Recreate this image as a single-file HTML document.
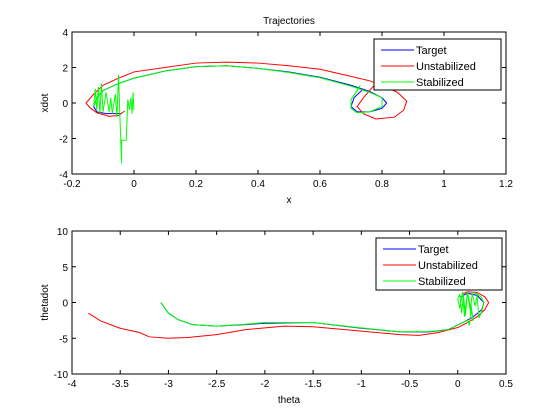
<!DOCTYPE html>
<html><head><meta charset="utf-8"><style>
body{margin:0;background:#fff;}
svg{display:block;font-family:"Liberation Sans",sans-serif;font-size:10px;}
</style></head><body>
<svg id="c" width="560" height="420"></svg>
<script>
// top plot data (x vs xdot)
const topTargetX=[-0.04,-0.09,-0.12,-0.13,-0.12,-0.1,-0.05,0,0.05,0.1,0.2,0.3,0.4,0.5,0.6,0.7,0.76,0.8,0.815,0.8,0.76,0.72,0.7,0.71,0.74];
const topTargetY=[-0.6,-0.6,-0.5,-0.2,0.3,0.7,1.1,1.4,1.6,1.8,2.05,2.1,1.95,1.75,1.45,1.0,0.65,0.3,0,-0.3,-0.5,-0.5,-0.2,0.3,0.8];
const topUnstX=[-0.03,-0.05,-0.08,-0.12,-0.14,-0.155,-0.13,-0.1,-0.05,0,0.1,0.2,0.3,0.4,0.5,0.6,0.7,0.76,0.8,0.85,0.88,0.87,0.84,0.78,0.74,0.72,0.74,0.77,0.79];
const topUnstY=[-0.45,-0.7,-0.75,-0.55,-0.3,0,0.5,1.0,1.4,1.75,2.0,2.25,2.3,2.25,2.1,1.9,1.5,1.25,1.0,0.6,0.1,-0.4,-0.8,-0.9,-0.6,-0.2,0.3,0.9,1.2];
const topStabX=[0,-0.003,-0.006,-0.01,-0.015,-0.02,-0.025,-0.04,-0.04,-0.045,-0.05,-0.055,-0.06,-0.07,-0.075,-0.08,-0.09,-0.1,-0.105,-0.11,-0.115,-0.12,-0.125,-0.13,-0.12,-0.1,-0.05,0,0.05,0.1,0.2,0.3,0.4,0.5,0.6,0.7,0.76,0.8,0.8,0.76,0.72,0.7,0.7,0.72,0.73];
const topStabY=[-0.4,0.6,-0.6,0.3,-0.4,0.2,-2.1,-2.1,-3.4,-1.0,1.6,-0.8,0.5,-0.6,0.3,-0.5,0.6,-0.5,1.1,-0.6,0.9,-0.4,0.8,-0.2,0.3,0.7,1.1,1.4,1.6,1.8,2.05,2.1,1.95,1.72,1.42,0.95,0.6,0.3,-0.2,-0.5,-0.55,-0.3,0.2,0.7,1.0];
const topXTicks=[-0.2,0,0.2,0.4,0.6,0.8,1,1.2];
const topYTicks=[-4,-2,0,2,4];
// bottom plot data (theta vs thetadot)
const botTargetX=[-3.08,-3.0,-2.9,-2.75,-2.5,-2.2,-2.0,-1.5,-1.0,-0.6,-0.3,-0.1,0.05,0.15,0.25,0.27,0.2,0.1,0.03];
const botTargetY=[0,-1.5,-2.4,-3.1,-3.3,-3.1,-2.9,-2.8,-3.6,-4.1,-4.1,-3.8,-2.8,-2.1,-1.0,0,1.0,1.3,0.8];
const botUnstX=[-3.83,-3.7,-3.5,-3.3,-3.2,-3.0,-2.8,-2.5,-2.2,-1.8,-1.5,-1.0,-0.6,-0.4,-0.2,0,0.1,0.2,0.28,0.32,0.28,0.2,0.1,0.05];
const botUnstY=[-1.5,-2.6,-3.6,-4.2,-4.8,-5.0,-4.9,-4.5,-3.8,-3.3,-3.4,-4.0,-4.5,-4.6,-4.2,-3.5,-2.8,-2.0,-1.0,0,0.8,1.4,1.5,1.2];
const botStabX=[-3.08,-3.0,-2.9,-2.75,-2.5,-2.2,-2.0,-1.5,-1.0,-0.6,-0.3,-0.1,0.05,0.1,0.12,0.14,0.16,0.1,0.08,0.06,0.04,0.02,0.0,0.02,0.05,0.07,0.1,0.13,0.15,0.18,0.2,0.22,0.25,0.27,0.24,0.2,0.16];
const botStabY=[0,-1.5,-2.4,-3.1,-3.3,-3.05,-2.8,-2.8,-3.55,-4.1,-4.05,-3.8,-2.8,-2.5,-3.2,-0.5,-2.6,1.5,-1.8,1.0,-1.5,1.2,0.5,-0.8,1.5,-2.0,1.4,-1.2,1.3,-0.5,1.0,-2.2,-1.2,0,0.8,1.2,1.4];
const botXTicks=[-4,-3.5,-3,-2.5,-2,-1.5,-1,-0.5,0,0.5];
const botYTicks=[-10,-5,0,5,10];

const svg=document.getElementById('c');
const NS='http://www.w3.org/2000/svg';
function mk(tag,attrs,parent){const e=document.createElementNS(NS,tag);for(const k in attrs)e.setAttribute(k,attrs[k]);(parent||svg).appendChild(e);return e;}

function panel(name,L,R,T,B,xmin,xmax,ymin,ymax,xt,yt,xlab,ylab,series,leg){
  const g=mk('g',{});
  
  
  const sx=v=>L+(v-xmin)/(xmax-xmin)*(R-L);
  const sy=v=>B-(v-ymin)/(ymax-ymin)*(B-T);
  const fr=mk('rect',{x:L,y:T,width:R-L,height:B-T,fill:'#fff',stroke:'#000','stroke-width':1},g);
  
  
  xt.forEach(v=>{const x=sx(v);
    mk('line',{x1:x,y1:B,x2:x,y2:B-4,stroke:'#000'},g);
    mk('line',{x1:x,y1:T,x2:x,y2:T+4,stroke:'#000'},g);
    const t=mk('text',{x:x,y:B+13,'text-anchor':'middle'},g);t.textContent=String(v);
    
    
  });
  yt.forEach(v=>{const y=sy(v);
    mk('line',{x1:L,y1:y,x2:L+4,y2:y,stroke:'#000'},g);
    mk('line',{x1:R,y1:y,x2:R-4,y2:y,stroke:'#000'},g);
    const t=mk('text',{x:L-4,y:y+4,'text-anchor':'end'},g);t.textContent=String(v);
    
    
  });
  const xl=mk('text',{x:(L+R)/2,y:B+29,'text-anchor':'middle'},g);xl.textContent=xlab;
  
  
  const yl=mk('text',{x:0,y:0,'text-anchor':'middle',transform:`translate(${L-24},${(T+B)/2}) rotate(-90)`},g);yl.textContent=ylab;
  
  
  series.forEach(s=>{
    const p=mk('polyline',{points:s.x.map((v,i)=>sx(v)+','+sy(s.y[i])).join(' '),fill:'none',stroke:s.c,'stroke-width':1},g);
    
    
  });
  const lg=mk('g',{},g);
  
  
  mk('rect',{x:leg[0],y:leg[1],width:leg[2],height:leg[3],fill:'#fff',stroke:'#000'},lg);
  series.forEach((s,i)=>{const y=leg[1]+11+i*16;
    mk('line',{x1:leg[0]+7,y1:y,x2:leg[0]+40,y2:y,stroke:s.c},lg);
    const t=mk('text',{x:leg[0]+42,y:y+4,'font-size':'11px'},lg);t.textContent=s.l;
    
    
  });
}
const ti=mk('text',{x:289,y:24,'text-anchor':'middle'});ti.textContent='Trajectories';


panel('top-plot',72,506,32,174,-0.2,1.2,-4,4,topXTicks,topYTicks,'x','xdot',[
 {x:topTargetX,y:topTargetY,c:'#0000ff',l:'Target',n:'target-line'},
 {x:topUnstX,y:topUnstY,c:'#ff0000',l:'Unstabilized',n:'unstabilized-line'},
 {x:topStabX,y:topStabY,c:'#00ff00',l:'Stabilized',n:'stabilized-line'}],[374,39,127,51]);
panel('bottom-plot',72,506,231,374,-4,0.5,-10,10,botXTicks,botYTicks,'theta','thetadot',[
 {x:botTargetX,y:botTargetY,c:'#0000ff',l:'Target',n:'target-line'},
 {x:botUnstX,y:botUnstY,c:'#ff0000',l:'Unstabilized',n:'unstabilized-line'},
 {x:botStabX,y:botStabY,c:'#00ff00',l:'Stabilized',n:'stabilized-line'}],[376,238,126,52]);
</script>
</body></html>
